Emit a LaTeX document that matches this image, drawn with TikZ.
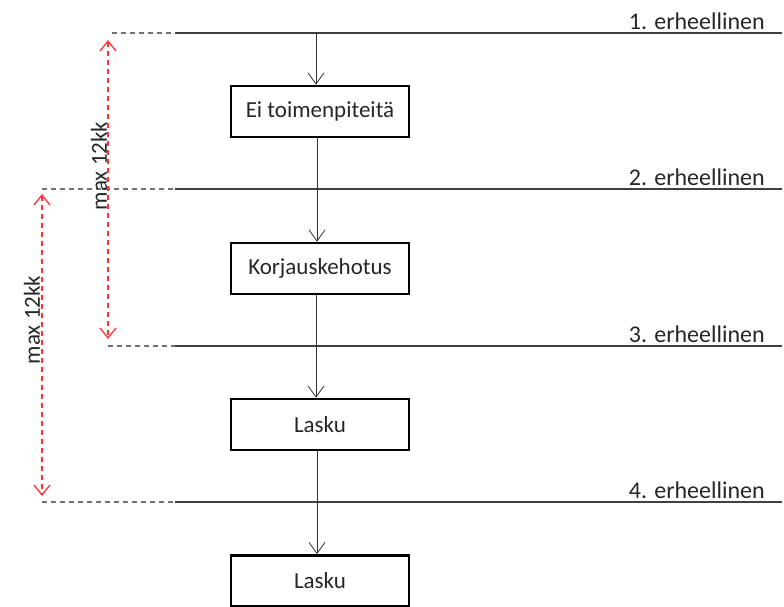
\documentclass[tikz,border=0pt]{standalone}
\usepackage{fontspec}
\setmainfont{Carlito}
\usetikzlibrary{arrows.meta}
\begin{document}
\begin{tikzpicture}[x=1pt,y=-1pt,
  stagebox/.style={draw=black,line width=2.8pt,minimum width=178pt,minimum height=51pt,inner sep=0pt,font=\fontsize{23}{25}\selectfont,text=black!85},
  flowarrow/.style={draw=black!80,line width=0.8pt,-{Straight Barb[length=11pt,width=16pt,line width=0.8pt]}},
  limitarrow/.style={draw=red!80,dashed,line width=1.3pt,dash pattern=on 5pt off 4pt,{Straight Barb[length=10pt,width=16pt,line width=1.3pt]}-{Straight Barb[length=10pt,width=16pt,line width=1.3pt]}},
  levelline/.style={draw=black!75,line width=1.3pt},
  extline/.style={draw=black!55,dashed,line width=1.3pt,dash pattern=on 5pt off 4pt},
  levellabel/.style={anchor=south east,inner sep=1pt,font=\fontsize{24}{26}\selectfont,text=black!85},
  limitlabel/.style={rotate=90,inner sep=0pt,font=\fontsize{23}{25}\selectfont,text=black!85}]
\useasboundingbox (0,0) rectangle (784,606);
% level lines
\coordinate (l1s) at (175,33);  \coordinate (l1e) at (782,33);
\coordinate (l2s) at (175,189); \coordinate (l2e) at (782,189);
\coordinate (l3s) at (175,346); \coordinate (l3e) at (782,346);
\coordinate (l4s) at (175,502); \coordinate (l4e) at (782,502);
\coordinate (d1) at (112,33);
\coordinate (d2) at (42,189);
\coordinate (d3) at (108,346);
\coordinate (d4) at (42,502);
\draw[levelline] (l1s) -- (l1e);
\draw[levelline] (l2s) -- (l2e);
\draw[levelline] (l3s) -- (l3e);
\draw[levelline] (l4s) -- (l4e);
\draw[extline] (d1) -- (l1s);
\draw[extline] (d2) -- (l2s);
\draw[extline] (d3) -- (l3s);
\draw[extline] (d4) -- (l4s);
\node[levellabel] (t1) at (766,31) {1. erheellinen};
\node[levellabel] (t2) at (766,187) {2. erheellinen};
\node[levellabel] (t3) at (766,344) {3. erheellinen};
\node[levellabel] (t4) at (766,500) {4. erheellinen};
% boxes
\node[stagebox] (b1) at (320,111.5) {Ei toimenpiteitä};
\node[stagebox] (b2) at (320,268.5) {Korjauskehotus};
\node[stagebox] (b3) at (320,424.5) {Lasku};
\node[stagebox] (b4) at (320,581) {Lasku};
\coordinate (a0) at (316,33);
\draw[flowarrow] (a0) -- ([xshift=-4pt]b1.north);
\draw[flowarrow] ([xshift=-3pt]b1.south) -- ([xshift=-3pt]b2.north);
\draw[flowarrow] ([xshift=-4pt]b2.south) -- ([xshift=-4pt]b3.north);
\draw[flowarrow] ([xshift=-3pt]b3.south) -- ([xshift=-3pt]b4.north);
% limit arrows
\coordinate (ra1) at (108,40); \coordinate (ra2) at (108,339);
\coordinate (rb1) at (42,194); \coordinate (rb2) at (42,496);
\draw[limitarrow] (ra1) -- (ra2);
\draw[limitarrow] (rb1) -- (rb2);
\node[limitlabel] (m1) at (99,166) {max 12kk};
\node[limitlabel] (m2) at (32,320) {max 12kk};
\end{tikzpicture}
\end{document}
